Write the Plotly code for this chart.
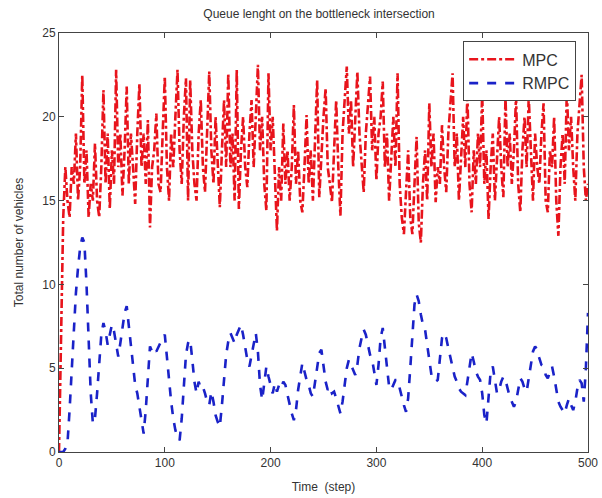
import plotly.graph_objects as go

steps = list(range(0, 501, 2))

mpc = [
    0, 6, 14, 17, 15, 14, 17, 16, 19, 15, 17, 22.5, 16, 18, 14, 16, 15, 18.4, 15, 14, 17, 21.6, 16, 19, 14.5,
    18, 16, 22.8, 17, 19, 15.3, 18, 21.8, 16, 19, 17, 14.8, 19, 22, 17, 19, 16, 19.8, 13.4, 17, 18, 20.2, 16, 15.5, 19,
    22.4, 17, 15, 19, 17, 20, 22.8, 18, 16, 20, 22.3, 15, 22.2, 18, 16, 15, 19, 21, 17, 15.5, 19, 22.7, 18, 16, 20,
    17, 14.6, 18, 21, 17, 22.6, 17, 19, 15, 22.8, 14.5, 18, 20, 17, 15.8, 19, 21, 17, 20, 23.1, 18, 20, 16, 14.4, 22.6,
    18, 20, 16, 13.2, 17, 15, 19.6, 16, 18, 15, 17, 20.7, 16, 18, 15, 14.3, 17, 20.1, 16, 18, 15, 19, 22.2, 15.2, 18,
    20, 21.7, 17, 16, 14.9, 18, 21, 17, 14.1, 19, 21, 23, 19, 21, 17, 20, 22.7, 19, 17, 15.5, 19, 21, 22.4, 18, 20,
    16.2, 19, 20, 22.1, 17, 19, 15, 18, 20, 17, 22.6, 16, 14, 13, 16, 18, 14, 13, 16, 18.8, 13.7, 12.5, 16, 18, 15,
    20.8, 17, 19, 14.9, 17, 16, 19.5, 17, 15.5, 19, 21, 22.6, 17, 19, 15, 18, 20, 17, 21.4, 16, 14.3, 18, 16, 19, 17,
    21.4, 16, 18, 13.9, 17, 19, 15, 18, 20, 17, 15.2, 21.2, 17, 19, 16, 18, 21.2, 16, 14.3, 18, 20, 17, 21.2, 18, 15,
    19, 17, 16, 19, 20.8, 15, 14.3, 18, 17, 20, 15, 12.9, 17, 19, 16, 21.6, 18, 20, 17, 15, 19, 21, 22.5, 17, 15,
    16,
]

rmpc = [
    0, 0, 0, 0.2, 0.5, 2.5, 5, 7.5, 9.5, 11, 12.2, 12.8, 12.5, 10, 6.5, 3.5, 1.7, 2, 3.5, 5.5, 7, 7.7, 7.2, 6.4, 7,
    7.6, 7.2, 6.5, 5.7, 6.5, 7.5, 8.3, 8.7, 7.5, 6, 5, 4, 3.5, 2.6, 1.8, 1.1, 2.5, 4.5, 6.3, 6, 6.2, 6, 6.3, 6.5, 6.8,
    7, 5.5, 4.2, 3, 2, 1.3, 0.9, 0.7, 2, 4, 5.8, 6.5, 6.7, 5.5, 4.2, 3.5, 4.2, 3.8, 3.9, 3.5, 3, 2.8, 3.6, 3, 2.2,
    1.8, 1.5, 2.8, 4.5, 5.8, 6.6, 7.1, 6.8, 6.5, 7, 7.3, 7.6, 7, 6.3, 5.5, 5.1, 5.8, 6.6, 7.1, 6, 4, 3.1, 4, 5.1, 4.5,
    4, 3.5, 4.1, 3.6, 4, 3.8, 4.2, 4, 3.4, 2.8, 2.3, 1.9, 2.5, 3.7, 4.5, 5.3, 4.8, 4.3, 4, 3.5, 3.3, 4.2, 5.3, 5.9, 6.1,
    5, 4.2, 3.7, 3.9, 3.5, 3.6, 3.2, 2.7, 2.3, 3, 4.2, 5, 5.5, 5.2, 4.8, 4.6, 5.2, 6.2, 6.8, 7.3, 7, 6.3, 5.8, 5.5, 4.6,
    4, 5.2, 6.8, 7.4, 6.2, 4.8, 3.9, 3.7, 4, 4.3, 4.3, 3.8, 3.2, 2.8, 2.4, 3.2, 5, 7.2, 8.8, 9.4, 9, 8.2, 7.6, 7.3, 6.4,
    5.4, 4.6, 4.5, 4.2, 4.3, 5.5, 6.8, 7.1, 6.8, 6.2, 5.6, 5.1, 4.5, 4.2, 3.8, 3.6, 3.5, 3.4, 4.2, 5.2, 5.9, 5.4, 4.8, 4.5, 4.3,
    3.5, 2.2, 1.7, 3.2, 4.8, 5.1, 4.2, 3.5, 3.7, 4.2, 4.5, 4.3, 3.8, 3.3, 3, 2.7, 3, 3.8, 4.4, 4.2, 3.8, 3.6, 4.5, 5.4, 6,
    6.3, 6.1, 5.6, 5.2, 5.1, 4.6, 4.4, 4.8, 5.1, 4.5, 3.6, 3, 2.7, 2.5, 2.3, 2.8, 3.2, 2.8, 2.5, 3, 3.8, 4.3, 4.1, 3, 5,
    8.3,
]

x_ticks = [0, 100, 200, 300, 400, 500]
y_ticks = [0, 5, 10, 15, 20, 25]

title_text = "Queue lenght on the bottleneck intersection"
x_title = "Time  (step)"
y_title = "Total number of vehicles"

fig = go.Figure()
fig.add_trace(go.Scatter(x=steps, y=mpc, mode="lines", name="MPC",
                         line=dict(color="#e8141c", width=2.6, dash="dashdot")))
fig.add_trace(go.Scatter(x=steps, y=rmpc, mode="lines", name="RMPC",
                         line=dict(color="#1a22c8", width=2.6, dash="dash")))

axis_common = dict(showgrid=False, zeroline=False, showline=True, linecolor="#444",
                   linewidth=1, mirror="ticks", ticks="inside", ticklen=5, automargin=False,
                   tickcolor="#444", tickfont=dict(family="Arial, Liberation Sans", size=12, color="#333"))

fig.update_layout(
    width=602, height=498,
    margin=dict(l=59, r=14, t=33, b=46),
    paper_bgcolor="white", plot_bgcolor="white",
    font=dict(family="Arial, Liberation Sans", size=12, color="#333"),
    title=dict(text=title_text, x=0.53, xanchor="center", y=0.972, yanchor="middle",
               automargin=False, font=dict(size=12, color="#333")),
    xaxis=dict(range=[0, 500], tickvals=x_ticks, title=dict(text=x_title, standoff=13,
               font=dict(size=12, color="#333")), **axis_common),
    yaxis=dict(range=[0, 25], tickvals=y_ticks, title=dict(text=y_title, standoff=16,
               font=dict(size=12, color="#333")), **axis_common),
    legend=dict(x=0.764, y=0.98, xanchor="left", yanchor="top",
                bgcolor="white", bordercolor="#444", borderwidth=1, itemwidth=48,
                font=dict(size=16, color="#333"), tracegroupgap=0),
    showlegend=True,
)

fig.write_html("out.html", config={"displayModeBar": False},
               post_script="document.body.style.margin='0';")
